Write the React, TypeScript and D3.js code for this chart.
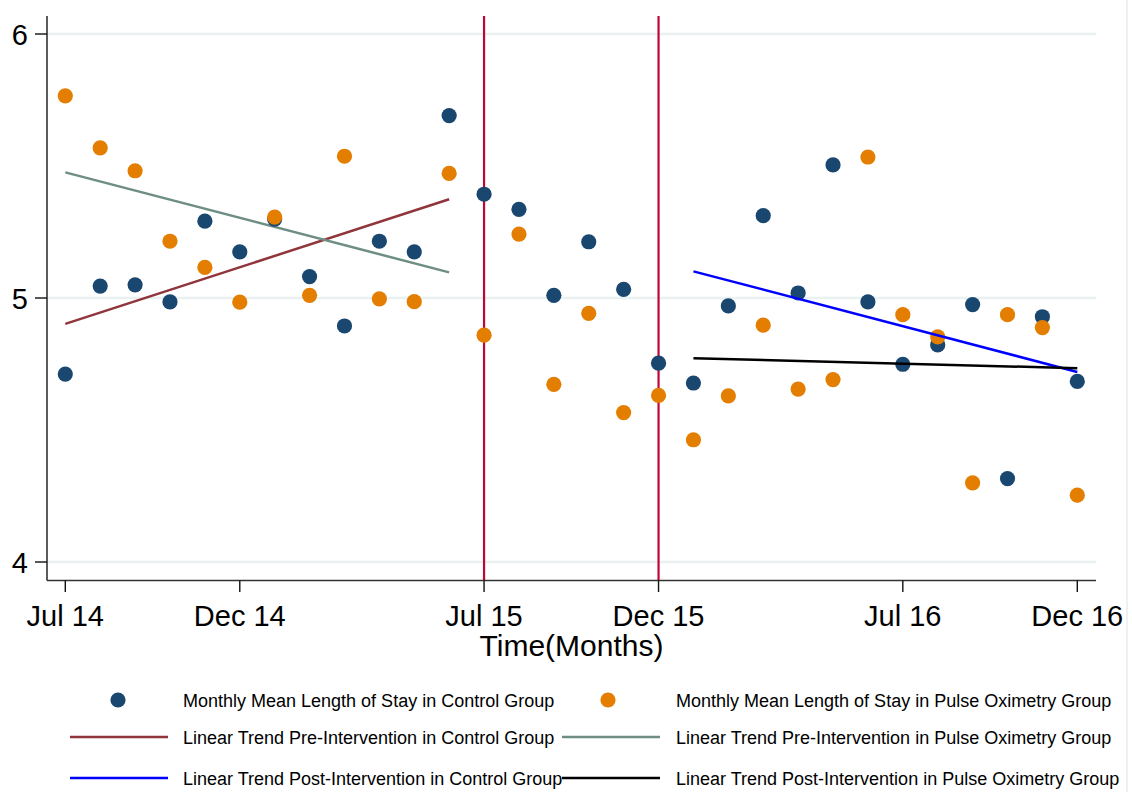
import * as d3 from 'd3';

// month index 0 = Jul 2014 ... 29 = Dec 2016
const tickMonths = [0, 5, 12, 17, 24, 29];
const tickLabels = ['Jul 14', 'Dec 14', 'Jul 15', 'Dec 15', 'Jul 16', 'Dec 16'];
const yTicks = [4, 5, 6];

const controlLos = [
  4.712, 5.045, 5.05, 4.985, 5.291, 5.175, 5.299, 5.081, 4.894, 5.215,
  5.175, 5.691, 5.393, 5.336, 5.01, 5.213, 5.033, 4.753, 4.678, 4.97,
  5.312, 5.019, 5.504, 4.985, 4.749, 4.822, 4.975, 4.316, 4.929, 4.684,
];
const pulseLos = [
  5.766, 5.569, 5.482, 5.215, 5.116, 4.984, 5.306, 5.01, 5.537, 4.997,
  4.986, 5.472, 4.859, 5.242, 4.673, 4.942, 4.566, 4.631, 4.463, 4.629,
  4.897, 4.655, 4.691, 5.534, 4.937, 4.853, 4.3, 4.937, 4.888, 4.253,
];

// trend segments: [startMonth, startValue, endMonth, endValue]
const preControl = [0, 4.902, 11, 5.374];
const prePulse = [0, 5.476, 11, 5.097];
const postControl = [18, 5.101, 29, 4.72];
const postPulse = [18, 4.772, 29, 4.734];
const interventionMonths = [12, 17];

const NAVY = '#1a476f';
const ORANGE = '#e37e00';
const MAROON = '#90353b';
const TEAL = '#6e8e84';
const CRANBERRY = '#c10534';

const FONT = '"Liberation Sans", Arial, Helvetica, sans-serif';

export default function App() {
  const x = d3.scaleLinear().domain([0, 29]).range([65.3, 1077.3]);
  const y = d3.scaleLinear().domain([4, 6]).range([562, 34]);
  const axisLeft = 47;
  const axisRight = 1096;
  const axisBottom = 580.5;
  const plotTop = 16;

  const seg = (s: number[], color: string) => (
    <line
      x1={x(s[0])}
      y1={y(s[1])}
      x2={x(s[2])}
      y2={y(s[3])}
      stroke={color}
      strokeWidth={2.5}
    />
  );

  const legend = [
    { kind: 'dot', color: NAVY, label: 'Monthly Mean Length of Stay in Control Group', col: 0, row: 0 },
    { kind: 'dot', color: ORANGE, label: 'Monthly Mean Length of Stay in Pulse Oximetry Group', col: 1, row: 0 },
    { kind: 'line', color: MAROON, label: 'Linear Trend Pre-Intervention in Control Group', col: 0, row: 1 },
    { kind: 'line', color: TEAL, label: 'Linear Trend Pre-Intervention in Pulse Oximetry Group', col: 1, row: 1 },
    { kind: 'line', color: '#0000ff', label: 'Linear Trend Post-Intervention in Control Group', col: 0, row: 2 },
    { kind: 'line', color: '#000000', label: 'Linear Trend Post-Intervention in Pulse Oximetry Group', col: 1, row: 2 },
  ];
  const rowY = [700, 737, 778];
  const colLine = [[70, 168], [562, 660]];
  const colDot = [118, 608];
  const colText = [183, 676];

  return (
    <svg
      width={1132}
      height={792}
      style={{ position: 'absolute', left: 0, top: 0, background: '#fff' }}
      fontFamily={FONT}
    >
      <rect x={1126} y={0} width={2} height={792} fill="#eef1f3" />

      {/* gridlines */}
      {yTicks.map((t) => (
        <line key={t} x1={axisLeft} x2={axisRight} y1={y(t)} y2={y(t)} stroke="#eaf1f3" strokeWidth={2.5} />
      ))}

      {/* intervention lines */}
      {interventionMonths.map((m) => (
        <line key={m} x1={x(m)} x2={x(m)} y1={plotTop} y2={axisBottom} stroke={CRANBERRY} strokeWidth={2.2} />
      ))}

      {/* trends */}
      {seg(preControl, MAROON)}
      {seg(prePulse, TEAL)}

      {/* points */}
      {controlLos.map((v, i) => (
        <circle key={'c' + i} cx={x(i)} cy={y(v)} r={7.6} fill={NAVY} />
      ))}
      {pulseLos.map((v, i) => (
        <circle key={'p' + i} cx={x(i)} cy={y(v)} r={7.6} fill={ORANGE} />
      ))}

      {seg(postControl, '#0000ff')}
      {seg(postPulse, '#000000')}

      {/* axes */}
      <line x1={axisLeft} x2={axisLeft} y1={plotTop} y2={axisBottom} stroke="#333" strokeWidth={1.6} />
      <line x1={axisLeft} x2={axisRight} y1={axisBottom} y2={axisBottom} stroke="#333" strokeWidth={1.6} />
      {yTicks.map((t) => (
        <g key={t}>
          <line x1={35} x2={axisLeft} y1={y(t)} y2={y(t)} stroke="#111" strokeWidth={1.4} />
          <text x={28} y={y(t) + 10.5} textAnchor="end" fontSize={29} fill="#000">
            {t}
          </text>
        </g>
      ))}
      {tickMonths.map((m, i) => (
        <g key={m}>
          <line x1={x(m)} x2={x(m)} y1={axisBottom} y2={592} stroke="#111" strokeWidth={1.4} />
          <text x={x(m)} y={626} textAnchor="middle" fontSize={29} fill="#000">
            {tickLabels[i]}
          </text>
        </g>
      ))}
      <text x={(axisLeft + axisRight) / 2} y={656} textAnchor="middle" fontSize={30} fill="#000">
        Time(Months)
      </text>

      {/* legend */}
      {legend.map((d) => (
        <g key={d.label}>
          {d.kind === 'dot' ? (
            <circle cx={colDot[d.col]} cy={rowY[d.row]} r={7.6} fill={d.color} />
          ) : (
            <line
              x1={colLine[d.col][0]}
              x2={colLine[d.col][1]}
              y1={rowY[d.row]}
              y2={rowY[d.row]}
              stroke={d.color}
              strokeWidth={2.5}
            />
          )}
          <text x={colText[d.col]} y={rowY[d.row] + 6.5} fontSize={18} fill="#000">
            {d.label}
          </text>
        </g>
      ))}
    </svg>
  );
}
